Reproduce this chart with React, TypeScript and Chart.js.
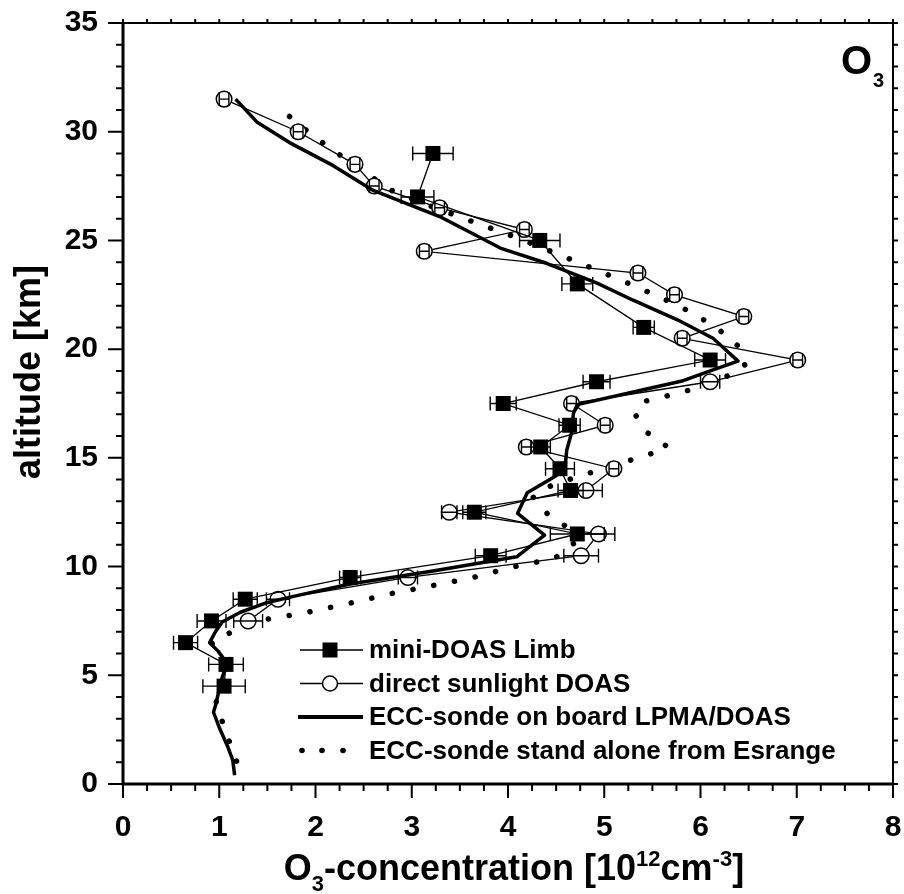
import React, { useEffect, useRef } from 'react';
import { Chart, registerables } from 'chart.js';

Chart.register(...registerables);

// mini-DOAS Limb (filled squares)
const limbAlt = [29, 27, 25, 23, 21, 19.5, 18.5, 17.5, 16.5, 15.5, 14.5, 13.5, 12.5, 11.5, 10.5, 9.5, 8.5, 7.5, 6.5, 5.5, 4.5];
const limbO3 = [3.22, 3.06, 4.33, 4.72, 5.41, 6.1, 4.92, 3.95, 4.64, 4.34, 4.54, 4.65, 3.65, 4.72, 3.82, 2.36, 1.27, 0.92, 0.65, 1.07, 1.05];
const limbErr = [0.21, 0.17, 0.21, 0.16, 0.11, 0.16, 0.14, 0.135, 0.11, 0.1, 0.15, 0.13, 0.12, 0.28, 0.16, 0.11, 0.125, 0.15, 0.125, 0.18, 0.22];

// direct sunlight DOAS (open circles)
const sunAlt = [31.5, 30, 28.5, 27.5, 26.5, 25.5, 24.5, 23.5, 22.5, 21.5, 20.5, 19.5, 18.5, 17.5, 16.5, 15.5, 14.5, 13.5, 12.5, 11.5, 10.5, 9.5, 8.5, 7.5];
const sunO3 = [1.05, 1.82, 2.41, 2.61, 3.29, 4.17, 3.13, 5.35, 5.73, 6.45, 5.81, 7.01, 6.1, 4.66, 5.01, 4.19, 5.1, 4.81, 3.39, 4.94, 4.76, 2.96, 1.61, 1.3];
const sunErr = [0.05, 0.05, 0.05, 0.05, 0.05, 0.05, 0.05, 0.05, 0.05, 0.05, 0.05, 0.05, 0.1, 0.05, 0.05, 0.05, 0.05, 0.17, 0.08, 0.17, 0.18, 0.1, 0.12, 0.15];

// ECC-sonde on board LPMA/DOAS (thick solid)
const eccBoardAlt = [31.5, 30.45, 29.5, 28.45, 27.3, 26.1, 24.65, 23.95, 23.05, 22.25, 21.35, 20.5, 20.1, 19.45, 19.05, 18.55, 18.1, 17.45, 17.05, 16.15, 15.35, 14.45, 14.1, 13.4, 12.45, 11.45, 10.45, 9.8, 9.2, 8.7, 8.35, 7.9, 7.45, 7.0, 6.5, 6.1, 5.55, 4.9, 3.6, 3.3, 2.6, 1.7, 1.1, 0.4];
const eccBoardO3 = [1.17, 1.39, 1.73, 2.18, 2.6, 3.29, 3.92, 4.4, 4.92, 5.3, 5.76, 6.13, 6.23, 6.39, 6.13, 5.82, 5.37, 4.72, 4.68, 4.66, 4.61, 4.59, 4.47, 4.2, 4.1, 4.38, 4.09, 3.22, 2.36, 1.84, 1.5, 1.22, 1.03, 0.96, 0.9, 0.99, 1.08, 1.03, 0.96, 0.94, 1.0, 1.09, 1.14, 1.16];

// ECC-sonde stand alone from Esrange (dotted)
const eccEsrAlt = [30.7, 29.94, 29.25, 27.9, 27.3, 26.54, 25.85, 25.16, 24.42, 23.64, 22.86, 22.0, 21.5, 20.9, 20.15, 19.27, 18.63, 18.03, 17.57, 17.0, 16.15, 15.5, 15.18, 14.6, 14.0, 13.67, 13.2, 12.37, 11.8, 11.05, 10.4, 10.17, 9.98, 9.5, 9.12, 8.75, 8.31, 7.9, 7.58, 7.4, 6.85, 6.5, 5.6, 4.9, 3.6, 3.3, 2.36, 1.43, 0.4];
const eccEsrO3 = [1.73, 1.94, 2.15, 2.59, 2.79, 3.22, 3.64, 4.07, 4.49, 4.92, 5.34, 5.77, 5.98, 6.19, 6.39, 6.46, 6.23, 5.82, 5.39, 5.32, 5.45, 5.66, 5.48, 5.06, 4.63, 4.42, 4.26, 4.42, 4.62, 4.68, 4.49, 4.26, 4.05, 3.64, 3.21, 2.78, 2.35, 1.92, 1.5, 1.29, 1.07, 0.92, 1.06, 1.03, 0.96, 1.0, 1.07, 1.15, 1.23];

const legendLabels = [
  'mini-DOAS Limb',
  'direct sunlight DOAS',
  'ECC-sonde on board LPMA/DOAS',
  'ECC-sonde stand alone from Esrange',
];

const xTicksMajor = 1;
const yTicksMajor = 5;

const FONT = "'Liberation Sans', Arial, Helvetica, sans-serif";

function toPts(xs: number[], ys: number[]) {
  return xs.map((v, i) => ({ x: v, y: ys[i] }));
}

function drawRich(ctx: CanvasRenderingContext2D, parts: [string, number, number][], cx: number, baseline: number) {
  let total = 0;
  const widths = parts.map(([t, s]) => {
    ctx.font = `bold ${s}px ${FONT}`;
    const w = ctx.measureText(t).width;
    total += w;
    return w;
  });
  let x = cx - total / 2;
  ctx.textAlign = 'left';
  ctx.textBaseline = 'alphabetic';
  parts.forEach(([t, s, dy], i) => {
    ctx.font = `bold ${s}px ${FONT}`;
    ctx.fillText(t, x, baseline + dy);
    x += widths[i];
  });
}

export default function App() {
  const ref = useRef<HTMLCanvasElement>(null);

  useEffect(() => {
    const canvas = ref.current;
    if (!canvas) return;

    const errBars = {
      id: 'errBars',
      afterDatasetsDraw(chart: any) {
        const ctx = chart.ctx as CanvasRenderingContext2D;
        const xs = chart.scales.x;
        const sets: [number, number[], number[]][] = [
          [1, sunO3, sunErr],
          [0, limbO3, limbErr],
        ];
        ctx.save();
        ctx.strokeStyle = '#000';
        ctx.lineWidth = 1.4;
        sets.forEach(([di, vals, errs]) => {
          const meta = chart.getDatasetMeta(di);
          meta.data.forEach((el: any, j: number) => {
            const y = el.y;
            const xl = xs.getPixelForValue(vals[j] - errs[j]);
            const xr = xs.getPixelForValue(vals[j] + errs[j]);
            ctx.beginPath();
            ctx.moveTo(xl, y);
            ctx.lineTo(xr, y);
            ctx.moveTo(xl, y - 7);
            ctx.lineTo(xl, y + 7);
            ctx.moveTo(xr, y - 7);
            ctx.lineTo(xr, y + 7);
            ctx.stroke();
          });
        });
        ctx.restore();
      },
    };

    const frame = {
      id: 'frame',
      afterDraw(chart: any) {
        const ctx = chart.ctx as CanvasRenderingContext2D;
        const a = chart.chartArea;
        const xs = chart.scales.x;
        const ys = chart.scales.y;
        ctx.save();
        ctx.strokeStyle = '#000';
        ctx.fillStyle = '#000';
        ctx.lineCap = 'butt';
        // top & right
        ctx.lineWidth = 2;
        ctx.beginPath();
        ctx.moveTo(a.left, a.top);
        ctx.lineTo(a.right, a.top);
        ctx.lineTo(a.right, a.bottom);
        ctx.stroke();
        // left & bottom
        ctx.lineWidth = 3;
        ctx.beginPath();
        ctx.moveTo(a.left, a.top - 1);
        ctx.lineTo(a.left, a.bottom);
        ctx.lineTo(a.right + 1, a.bottom);
        ctx.stroke();
        // ticks
        ctx.lineWidth = 2;
        ctx.beginPath();
        for (let i = 0; i <= 32; i++) {
          const v = i * 0.25;
          const px = xs.getPixelForValue(v);
          const major = Math.abs(v / xTicksMajor - Math.round(v / xTicksMajor)) < 1e-6;
          ctx.moveTo(px, a.bottom);
          ctx.lineTo(px, a.bottom + (major ? 14 : 7));
          ctx.moveTo(px, a.top);
          ctx.lineTo(px, a.top - 4);
        }
        for (let v = 0; v <= 35; v++) {
          const py = ys.getPixelForValue(v);
          const major = v % yTicksMajor === 0;
          ctx.moveTo(a.left, py);
          ctx.lineTo(a.left - (major ? 15 : 7), py);
          ctx.moveTo(a.right, py);
          ctx.lineTo(a.right + 5, py);
        }
        ctx.stroke();

        // axis titles
        drawRich(ctx, [
          ['O', 36, 0],
          ['3', 22, 11],
          ['-concentration [10', 36, 0],
          ['12', 22, -14],
          ['cm', 36, 0],
          ['-3', 22, -14],
          [']', 36, 0],
        ], (a.left + a.right) / 2 + 6, 880);

        ctx.save();
        ctx.translate(30, 372);
        ctx.rotate(-Math.PI / 2);
        ctx.font = `bold 36px ${FONT}`;
        ctx.textAlign = 'center';
        ctx.textBaseline = 'middle';
        ctx.fillText('altitude [km]', 0, 0);
        ctx.restore();

        // O3 label
        ctx.font = `bold 40px ${FONT}`;
        ctx.textAlign = 'left';
        ctx.textBaseline = 'alphabetic';
        ctx.fillText('O', 841, 74);
        ctx.font = `bold 20px ${FONT}`;
        ctx.fillText('3', 873, 87);

        // legend
        const rows = [650, 683.5, 717, 750.5];
        const x0 = 300, x1 = 363, xc = 330, tx = 369;
        ctx.font = `bold 26px ${FONT}`;
        ctx.textBaseline = 'middle';
        ctx.textAlign = 'left';
        legendLabels.forEach((t, i) => ctx.fillText(t, tx, rows[i] + 1));
        ctx.lineWidth = 1.4;
        ctx.beginPath();
        ctx.moveTo(x0, rows[0]);
        ctx.lineTo(x1, rows[0]);
        ctx.moveTo(x0, rows[1]);
        ctx.lineTo(x1, rows[1]);
        ctx.stroke();
        ctx.fillRect(xc - 7.5, rows[0] - 7.5, 15, 15);
        ctx.beginPath();
        ctx.arc(xc, rows[1], 7.5, 0, Math.PI * 2);
        ctx.fillStyle = '#fff';
        ctx.fill();
        ctx.lineWidth = 1.5;
        ctx.stroke();
        ctx.fillStyle = '#000';
        ctx.lineWidth = 4;
        ctx.beginPath();
        ctx.moveTo(x0 - 2, rows[2]);
        ctx.lineTo(x1, rows[2]);
        ctx.stroke();
        [302, 322, 343].forEach((dx) => {
          ctx.beginPath();
          ctx.arc(dx, rows[3], 2.8, 0, Math.PI * 2);
          ctx.fill();
        });
        ctx.restore();
      },
    };

    const chart = new Chart(canvas, {
      type: 'scatter',
      data: {
        datasets: [
          {
            label: legendLabels[0],
            data: toPts(limbO3, limbAlt),
            showLine: true,
            borderColor: '#000',
            borderWidth: 1.3,
            pointStyle: 'rect',
            pointRadius: 10.6,
            pointBackgroundColor: '#000',
            pointBorderColor: '#000',
            pointBorderWidth: 0,
            order: 0,
          },
          {
            label: legendLabels[1],
            data: toPts(sunO3, sunAlt),
            showLine: true,
            borderColor: '#000',
            borderWidth: 1.3,
            pointStyle: 'circle',
            pointRadius: 7.8,
            pointBackgroundColor: '#fff',
            pointBorderColor: '#000',
            pointBorderWidth: 1.5,
            order: 2,
          },
          {
            label: legendLabels[2],
            data: toPts(eccBoardO3, eccBoardAlt),
            showLine: true,
            borderColor: '#000',
            borderWidth: 3.5,
            pointRadius: 0,
            borderJoinStyle: 'round',
            order: 1,
          },
          {
            label: legendLabels[3],
            data: toPts(eccEsrO3, eccEsrAlt),
            showLine: true,
            borderColor: '#000',
            borderWidth: 5.5,
            borderDash: [0.1, 21],
            borderCapStyle: 'round',
            pointRadius: 0,
            order: 3,
          },
        ],
      },
      options: {
        animation: false,
        responsive: false,
        layout: { padding: { top: 23, right: 11, left: 0, bottom: 0 } },
        plugins: {
          legend: { display: false },
          tooltip: { enabled: false },
        },
        scales: {
          x: {
            type: 'linear',
            min: 0,
            max: 8,
            grid: { display: false, drawTicks: false },
            border: { display: false },
            ticks: {
              stepSize: 1,
              padding: 26,
              color: '#000',
              font: { family: FONT, size: 30, weight: 'bold' },
              maxRotation: 0,
            },
            afterFit: (s: any) => {
              s.height = 110;
              s.paddingLeft = 0;
              s.paddingRight = 0;
            },
          },
          y: {
            type: 'linear',
            min: 0,
            max: 35,
            grid: { display: false, drawTicks: false },
            border: { display: false },
            ticks: {
              stepSize: 5,
              padding: 25,
              color: '#000',
              font: { family: FONT, size: 30, weight: 'bold' },
            },
            afterFit: (s: any) => {
              s.width = 123;
              s.paddingTop = 0;
              s.paddingBottom = 0;
            },
          },
        },
      },
      plugins: [errBars, frame],
    } as any);

    return () => chart.destroy();
  }, []);

  return (
    <div style={{ position: 'fixed', left: 0, top: 0, width: 904, height: 894, background: '#fff' }}>
      <canvas ref={ref} width={904} height={894} style={{ display: 'block', width: 904, height: 894 }} />
    </div>
  );
}
